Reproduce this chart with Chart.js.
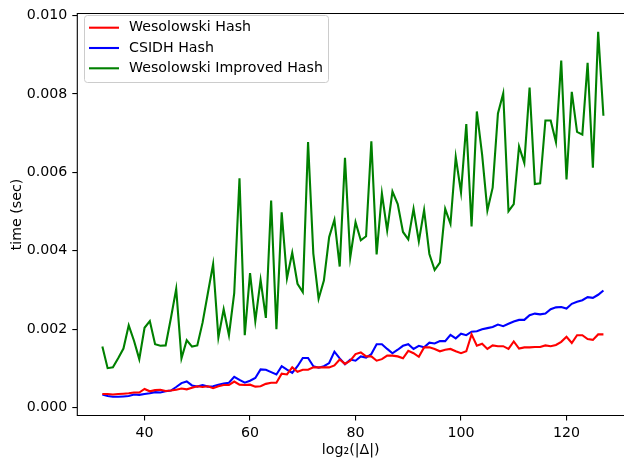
<!DOCTYPE html>
<html>
<head>
<meta charset="utf-8">
<script src="https://cdn.jsdelivr.net/npm/chart.js@4.4.0/dist/chart.umd.min.js"></script>
<style>
  html, body { margin: 0; padding: 0; background: #fff; overflow: hidden; }
  #wrap { width: 624px; height: 464px; }
</style>
</head>
<body>
<div id="wrap"><canvas id="myChart" width="624" height="464"></canvas></div>
<script>
// log2(|Delta|) values on the x axis
const bitSizes = [
  32, 33, 34, 35, 36, 37, 38, 39, 40, 41, 42, 43, 44, 45, 46, 47,
  48, 49, 50, 51, 52, 53, 54, 55, 56, 57, 58, 59, 60, 61, 62, 63,
  64, 65, 66, 67, 68, 69, 70, 71, 72, 73, 74, 75, 76, 77, 78, 79,
  80, 81, 82, 83, 84, 85, 86, 87, 88, 89, 90, 91, 92, 93, 94, 95,
  96, 97, 98, 99, 100, 101, 102, 103, 104, 105, 106, 107, 108, 109, 110, 111,
  112, 113, 114, 115, 116, 117, 118, 119, 120, 121, 122, 123, 124, 125, 126, 127
];

// timings, in milliseconds
const wesolowskiMs = [
  0.35, 0.35, 0.34, 0.35, 0.36, 0.37, 0.39, 0.39, 0.48, 0.42, 0.45, 0.46, 0.43, 0.44, 0.46, 0.49,
  0.47, 0.51, 0.55, 0.53, 0.55, 0.50, 0.55, 0.58, 0.58, 0.67, 0.59, 0.58, 0.59, 0.54, 0.55, 0.61,
  0.64, 0.64, 0.87, 0.85, 1.03, 0.92, 0.97, 0.97, 1.03, 1.03, 1.03, 1.03, 1.08, 1.23, 1.12, 1.20,
  1.37, 1.41, 1.31, 1.31, 1.20, 1.24, 1.33, 1.33, 1.31, 1.26, 1.45, 1.39, 1.30, 1.54, 1.54, 1.50,
  1.44, 1.48, 1.50, 1.44, 1.39, 1.44, 1.87, 1.58, 1.63, 1.50, 1.59, 1.57, 1.57, 1.50, 1.69, 1.51,
  1.54, 1.54, 1.55, 1.55, 1.59, 1.57, 1.60, 1.68, 1.81, 1.65, 1.85, 1.85, 1.75, 1.73, 1.87, 1.87
];

const csidhMs = [
  0.34, 0.30, 0.28, 0.28, 0.29, 0.30, 0.34, 0.33, 0.35, 0.37, 0.40, 0.39, 0.42, 0.44, 0.53, 0.63,
  0.67, 0.57, 0.54, 0.58, 0.54, 0.55, 0.59, 0.62, 0.64, 0.79, 0.71, 0.64, 0.69, 0.76, 0.98, 0.97,
  0.91, 0.85, 1.06, 0.97, 0.89, 1.06, 1.27, 1.27, 1.06, 1.02, 1.06, 1.14, 1.43, 1.26, 1.11, 1.23,
  1.20, 1.31, 1.28, 1.37, 1.62, 1.62, 1.50, 1.39, 1.48, 1.58, 1.62, 1.50, 1.58, 1.54, 1.66, 1.64,
  1.70, 1.70, 1.86, 1.77, 1.89, 1.85, 1.94, 1.95, 2.00, 2.03, 2.06, 2.12, 2.08, 2.14, 2.20, 2.24,
  2.24, 2.36, 2.40, 2.38, 2.40, 2.51, 2.56, 2.57, 2.53, 2.65, 2.70, 2.74, 2.82, 2.80, 2.88, 2.99
];

const improvedMs = [
  1.56, 1.01, 1.03, 1.26, 1.51, 2.10, 1.71, 1.24, 2.04, 2.21, 1.62, 1.58, 1.59, 2.29, 3.03, 1.26,
  1.72, 1.56, 1.59, 2.17, 2.92, 3.66, 1.79, 2.51, 1.85, 2.92, 5.85, 1.85, 3.43, 2.21, 3.26, 2.29,
  5.28, 2.00, 4.98, 3.30, 3.95, 3.16, 2.95, 6.77, 3.93, 2.78, 3.24, 4.35, 4.79, 3.60, 6.37, 3.83,
  4.73, 4.27, 4.37, 6.79, 3.91, 5.46, 4.52, 5.51, 5.19, 4.48, 4.29, 5.07, 4.24, 5.04, 3.92, 3.51,
  3.70, 5.07, 4.69, 6.39, 5.49, 7.23, 4.62, 7.55, 6.45, 5.03, 5.61, 7.50, 8.01, 5.01, 5.19, 6.66,
  6.24, 8.16, 5.70, 5.72, 7.32, 7.32, 6.77, 8.85, 5.82, 8.05, 7.03, 6.96, 8.79, 6.12, 9.58, 7.44
];

const seriesNames = ["Wesolowski Hash", "CSIDH Hash", "Wesolowski Improved Hash"];
const seriesColors = ["#ff0000", "#0000ff", "#008000"];
const xTickValues = [40, 60, 80, 100, 120];
const yTickValues = [0, 0.002, 0.004, 0.006, 0.008, 0.010];

const FONT = "'DejaVu Sans', sans-serif";
const FONT_SIZE = 14.2;

function toPoints(msValues) {
  return bitSizes.map((b, i) => ({ x: b, y: msValues[i] / 1000 }));
}

function returnDatasets() {
  const all = [wesolowskiMs, csidhMs, improvedMs];
  return all.map((values, i) => ({
    label: seriesNames[i],
    data: toPoints(values),
    borderColor: seriesColors[i],
    backgroundColor: seriesColors[i],
    borderWidth: 2.1,
    pointRadius: 0,
    tension: 0,
    fill: false,
  }));
}

// spines (the right one falls just outside the picture) + legend inside the plot
const frameAndLegend = {
  id: "frameAndLegend",
  afterDatasetsDraw(chart) {
    const { ctx, chartArea: a } = chart;
    ctx.save();
    ctx.strokeStyle = "#000";
    ctx.lineWidth = 1.1;
    ctx.beginPath();
    ctx.moveTo(a.right + 2, a.top);
    ctx.lineTo(a.left, a.top);
    ctx.lineTo(a.left, a.bottom);
    ctx.lineTo(a.right + 2, a.bottom);
    ctx.stroke();
    ctx.restore();
  },
  afterDraw(chart) {
    const ctx = chart.ctx;
    const box = { x: 84.5, y: 15.5, w: 244, h: 67 };
    ctx.save();
    ctx.beginPath();
    ctx.roundRect(box.x, box.y, box.w, box.h, 3);
    ctx.fillStyle = "rgba(255,255,255,0.8)";
    ctx.fill();
    ctx.strokeStyle = "#cccccc";
    ctx.lineWidth = 1;
    ctx.stroke();
    ctx.font = FONT_SIZE + "px " + FONT;
    ctx.textBaseline = "middle";
    ctx.fillStyle = "#000";
    seriesNames.forEach((name, i) => {
      const y = 27.7 + i * 20.3;
      ctx.beginPath();
      ctx.moveTo(89, y);
      ctx.lineTo(119, y);
      ctx.strokeStyle = seriesColors[i];
      ctx.lineWidth = 2.1;
      ctx.stroke();
      ctx.fillText(name, 129, y);
    });
    ctx.restore();
  },
};

function returnScalesSettings() {
  const tickFont = { family: FONT, size: FONT_SIZE };
  return {
    x: {
      type: "linear",
      min: 27.25,
      max: 130.9,
      afterBuildTicks: (scale) => {
        scale.ticks = xTickValues.map((v) => ({ value: v }));
      },
      afterFit: (scale) => {
        scale.height = 48.5;
      },
      grid: { drawOnChartArea: false, drawTicks: true, tickLength: 5, color: "#000", lineWidth: 1.1 },
      border: { display: false },
      ticks: { color: "#000", font: tickFont, padding: 4, maxRotation: 0, autoSkip: false },
      title: {
        display: true,
        text: "log\u2082(|\u0394|)",
        color: "#000",
        font: tickFont,
        padding: { top: 0, bottom: 5 },
      },
    },
    y: {
      type: "linear",
      min: -0.000196,
      max: 0.010046,
      afterBuildTicks: (scale) => {
        scale.ticks = yTickValues.map((v) => ({ value: v }));
      },
      afterFit: (scale) => {
        scale.width = 77.3;
      },
      grid: { drawOnChartArea: false, drawTicks: true, tickLength: 5, color: "#000", lineWidth: 1.1 },
      border: { display: false },
      ticks: {
        color: "#000",
        font: tickFont,
        padding: 5,
        callback: (v) => Number(v).toFixed(3),
      },
      title: {
        display: true,
        text: "time (sec)",
        color: "#000",
        font: tickFont,
        padding: { top: 9, bottom: 0 },
      },
    },
  };
}

function chart() {
  const ctx = document.getElementById("myChart");
  new Chart(ctx, {
    type: "line",
    data: { datasets: returnDatasets() },
    options: {
      responsive: false,
      animation: false,
      devicePixelRatio: 1,
      layout: { padding: { left: 0, top: 9.2, right: 0, bottom: 0 } },
      scales: returnScalesSettings(),
      plugins: {
        legend: { display: false },
        tooltip: { enabled: false },
      },
    },
    plugins: [frameAndLegend],
  });
}

chart();
</script>
</body>
</html>
